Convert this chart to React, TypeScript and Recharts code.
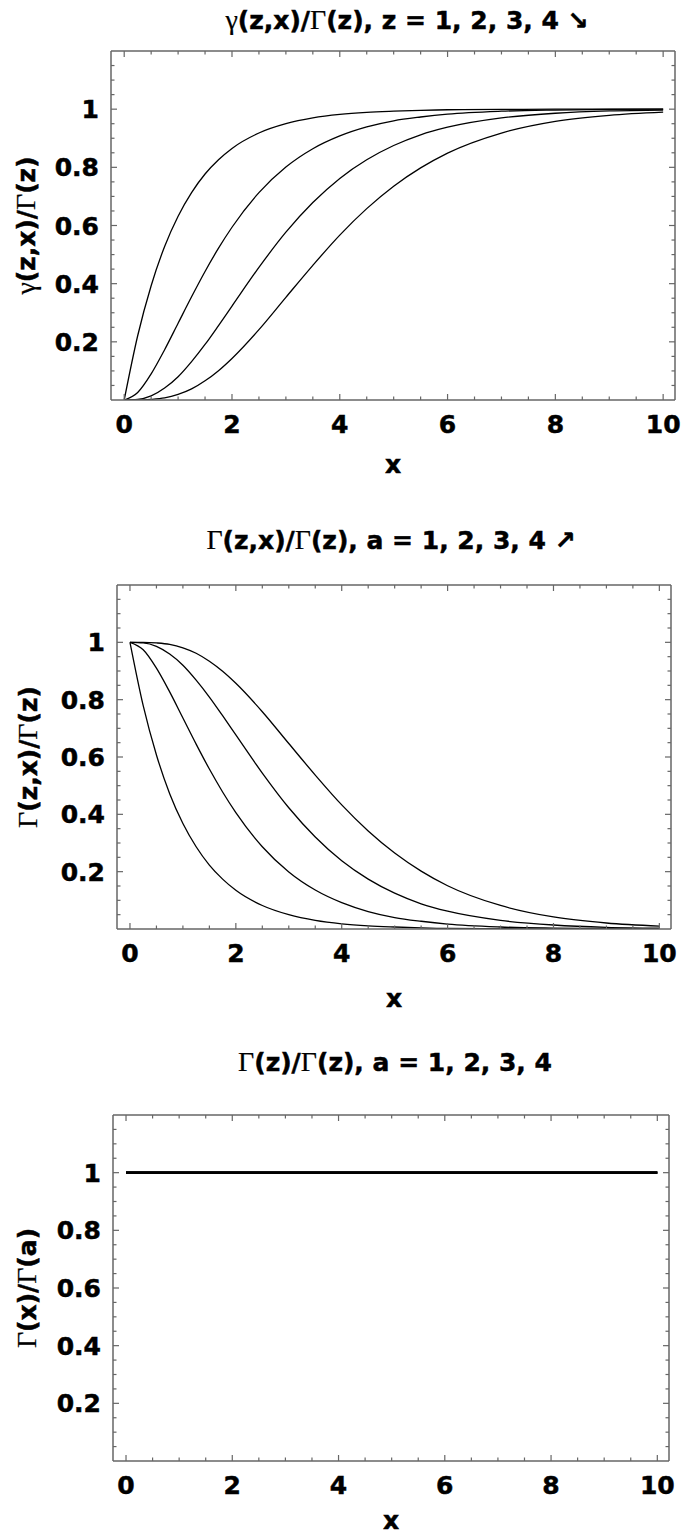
import { LineChart, Line, XAxis, YAxis, Customized } from "recharts";

const FRAME = "#666666";
const SANS = "'DejaVu Sans', sans-serif";
const SERIF = "'Liberation Serif', 'DejaVu Serif', serif";

// sample points along x
const xs = [0, 0.25, 0.5, 0.75, 1, 1.25, 1.5, 1.75, 2, 2.5, 3, 3.5, 4, 4.5, 5, 5.5, 6, 7, 8, 9, 10];

// top panel: gamma(z,x)/Gamma(z)
const lowerZ1 = [0, 0.221, 0.393, 0.528, 0.632, 0.713, 0.777, 0.826, 0.865, 0.918, 0.95, 0.97, 0.982, 0.989, 0.993, 0.996, 0.998, 0.999, 1.0, 1.0, 1.0];
const lowerZ2 = [0, 0.026, 0.09, 0.173, 0.264, 0.355, 0.442, 0.522, 0.594, 0.713, 0.801, 0.864, 0.908, 0.939, 0.96, 0.973, 0.983, 0.993, 0.997, 0.999, 1.0];
const lowerZ3 = [0, 0.002, 0.014, 0.041, 0.08, 0.132, 0.191, 0.256, 0.323, 0.456, 0.577, 0.679, 0.762, 0.826, 0.875, 0.912, 0.938, 0.97, 0.986, 0.994, 0.997];
const lowerZ4 = [0, 0.0, 0.002, 0.007, 0.019, 0.038, 0.066, 0.101, 0.143, 0.242, 0.353, 0.463, 0.567, 0.658, 0.735, 0.798, 0.849, 0.918, 0.958, 0.979, 0.99];

// middle panel: Gamma(z,x)/Gamma(z)
const upperZ1 = [1, 0.779, 0.607, 0.472, 0.368, 0.287, 0.223, 0.174, 0.135, 0.082, 0.05, 0.03, 0.018, 0.011, 0.007, 0.004, 0.002, 0.001, 0.0, 0.0, 0.0];
const upperZ2 = [1, 0.974, 0.91, 0.827, 0.736, 0.645, 0.558, 0.478, 0.406, 0.287, 0.199, 0.136, 0.092, 0.061, 0.04, 0.027, 0.017, 0.007, 0.003, 0.001, 0.0];
const upperZ3 = [1, 0.998, 0.986, 0.959, 0.92, 0.868, 0.809, 0.744, 0.677, 0.544, 0.423, 0.321, 0.238, 0.174, 0.125, 0.088, 0.062, 0.03, 0.014, 0.006, 0.003];
const upperZ4 = [1, 1.0, 0.998, 0.993, 0.981, 0.962, 0.934, 0.899, 0.857, 0.758, 0.647, 0.537, 0.433, 0.342, 0.265, 0.202, 0.151, 0.082, 0.042, 0.021, 0.01];

// bottom panel: Gamma(z)/Gamma(z)
const flatXs = [0, 10];
const flatZ1 = [1, 1];
const flatZ2 = [1, 1];
const flatZ3 = [1, 1];
const flatZ4 = [1, 1];

const xTicks = [0, 0.5, 1, 1.5, 2, 2.5, 3, 3.5, 4, 4.5, 5, 5.5, 6, 6.5, 7, 7.5, 8, 8.5, 9, 9.5, 10];
const xMajor = [0, 2, 4, 6, 8, 10];
const yTicks = [0.05, 0.1, 0.15, 0.2, 0.25, 0.3, 0.35, 0.4, 0.45, 0.5, 0.55, 0.6, 0.65, 0.7, 0.75, 0.8, 0.85, 0.9, 0.95, 1, 1.05, 1.1, 1.15];
const yMajor = [0.2, 0.4, 0.6, 0.8, 1];

const X_DOMAIN = [-0.245, 10.22];
const Y_DOMAIN = [0, 1.2];

const rowsOf = (x: number[], a: number[], b: number[], c: number[], d: number[]) =>
  x.map((v, i) => ({ x: v, z1: a[i], z2: b[i], z3: c[i], z4: d[i] }));

type Part = [string, boolean];

// margins are the plot frame minus the 1px axis bands
const panels = [
  {
    top: 0,
    height: 500,
    margin: { top: 50, right: 9, bottom: 99, left: 110 },
    data: rowsOf(xs, lowerZ1, lowerZ2, lowerZ3, lowerZ4),
    title: [["γ", true], ["(z,x)/", false], ["Γ", true], ["(z), z = 1, 2, 3, 4 ↘", false]] as Part[],
    titleY: 29,
    titleDx: 14,
    yLabel: [["γ", true], ["(z,x)/", false], ["Γ", true], ["(z)", false]] as Part[],
    yLabelX: 35,
    xLabelY: 473,
    lineW: 1.3,
  },
  {
    top: 500,
    height: 530,
    margin: { top: 84, right: 13, bottom: 100, left: 116 },
    data: rowsOf(xs, upperZ1, upperZ2, upperZ3, upperZ4),
    title: [["Γ", true], ["(z,x)/", false], ["Γ", true], ["(z), a = 1, 2, 3, 4 ↗", false]] as Part[],
    titleY: 49,
    titleDx: -3,
    yLabel: [["Γ", true], ["(z,x)/", false], ["Γ", true], ["(z)", false]] as Part[],
    yLabelX: 37,
    xLabelY: 507,
    lineW: 1.3,
  },
  {
    top: 1030,
    height: 507,
    margin: { top: 84, right: 15, bottom: 75, left: 112 },
    data: rowsOf(flatXs, flatZ1, flatZ2, flatZ3, flatZ4),
    title: [["Γ", true], ["(z)/", false], ["Γ", true], ["(z), a = 1, 2, 3, 4", false]] as Part[],
    titleY: 41,
    titleDx: 4,
    yLabel: [["Γ", true], ["(x)/", false], ["Γ", true], ["(a)", false]] as Part[],
    yLabelX: 36,
    xLabelY: 499,
    lineW: 2.2,
  },
];

const textProps = { fontFamily: SANS, fontWeight: "bold", fontSize: 25, fill: "#000", stroke: "#000", strokeWidth: 0.5 } as const;

const spans = (parts: Part[]) =>
  parts.map(([t, serif], i) => (
    <tspan key={i} fontFamily={serif ? SERIF : SANS} fontWeight={serif ? "normal" : "bold"} fontSize={serif ? 28 : 25}
      strokeWidth={serif ? 0.2 : 0.5}>
      {t}
    </tspan>
  ));

function bottomTick(p: any) {
  const v = p.payload.value;
  const major = xMajor.includes(v);
  return (
    <g>
      <line x1={p.x} y1={p.y} x2={p.x} y2={p.y - (major ? 6 : 3.5)} stroke={FRAME} strokeWidth={1.2} />
      {major && (
        <text x={p.x} y={p.y + 33} textAnchor="middle" {...textProps}>
          {v}
        </text>
      )}
    </g>
  );
}

function topTick(p: any) {
  const major = xMajor.includes(p.payload.value);
  return <line x1={p.x} y1={p.y} x2={p.x} y2={p.y + (major ? 6 : 3.5)} stroke={FRAME} strokeWidth={1.2} />;
}

function leftTick(p: any) {
  const v = p.payload.value;
  const major = yMajor.includes(v);
  return (
    <g>
      <line x1={p.x} y1={p.y} x2={p.x + (major ? 6 : 3.5)} y2={p.y} stroke={FRAME} strokeWidth={1.2} />
      {major && (
        <text x={p.x - 12} y={p.y + 9} textAnchor="end" {...textProps}>
          {v}
        </text>
      )}
    </g>
  );
}

function rightTick(p: any) {
  const major = yMajor.includes(p.payload.value);
  return <line x1={p.x} y1={p.y} x2={p.x - (major ? 6 : 3.5)} y2={p.y} stroke={FRAME} strokeWidth={1.2} />;
}

function Labels({ panel }: { panel: (typeof panels)[number] }) {
  const { margin, height } = panel;
  const left = margin.left + 1;
  const right = 685 - margin.right - 1;
  const cx = (left + right) / 2;
  const cy = (margin.top + 1 + height - margin.bottom - 1) / 2;
  return (
    <g>
      <text x={cx + panel.titleDx} y={panel.titleY} textAnchor="middle" {...textProps}>
        {spans(panel.title)}
      </text>
      <text transform={`translate(${panel.yLabelX}, ${cy}) rotate(-90)`} textAnchor="middle" {...textProps}>
        {spans(panel.yLabel)}
      </text>
      <text x={cx} y={panel.xLabelY} textAnchor="middle" {...textProps}>
        x
      </text>
    </g>
  );
}

const axisLine = { stroke: FRAME, strokeWidth: 1.5 };

export default function App() {
  return (
    <div style={{ position: "absolute", left: 0, top: 0, width: 685, height: 1537, background: "#fff" }}>
      {panels.map((panel, i) => (
        <div key={i} style={{ position: "absolute", left: 0, top: panel.top }}>
          <LineChart width={685} height={panel.height} data={panel.data} margin={panel.margin}>
            <XAxis xAxisId="b" dataKey="x" type="number" domain={X_DOMAIN} allowDataOverflow ticks={xTicks} interval={0}
              height={1} tickSize={0} tickMargin={0} tickLine={false} axisLine={axisLine} tick={bottomTick} />
            <XAxis xAxisId="t" orientation="top" dataKey="x" type="number" domain={X_DOMAIN} allowDataOverflow ticks={xTicks} interval={0}
              height={1} tickSize={0} tickMargin={0} tickLine={false} axisLine={axisLine} tick={topTick} />
            <YAxis yAxisId="l" type="number" domain={Y_DOMAIN} allowDataOverflow ticks={yTicks} interval={0}
              width={1} tickSize={0} tickMargin={0} tickLine={false} axisLine={axisLine} tick={leftTick} />
            <YAxis yAxisId="r" orientation="right" type="number" domain={Y_DOMAIN} allowDataOverflow ticks={yTicks} interval={0}
              width={1} tickSize={0} tickMargin={0} tickLine={false} axisLine={axisLine} tick={rightTick} />
            {["z1", "z2", "z3", "z4"].map((k) => (
              <Line key={k} xAxisId="b" yAxisId="l" dataKey={k} type="monotone" stroke="#000" strokeWidth={panel.lineW}
                dot={false} activeDot={false} isAnimationActive={false} />
            ))}
            <Customized component={<Labels panel={panel} />} />
          </LineChart>
        </div>
      ))}
    </div>
  );
}
